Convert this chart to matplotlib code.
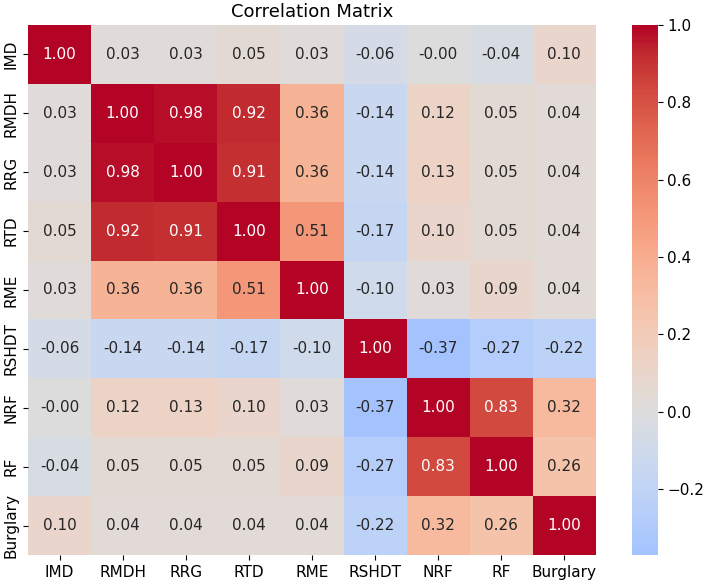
import numpy as np
import matplotlib
matplotlib.use('Agg')
import matplotlib.pyplot as plt
import seaborn as sns

labels = ['IMD', 'RMDH', 'RRG', 'RTD', 'RME', 'RSHDT', 'NRF', 'RF', 'Burglary']
corr = np.array([
	[1.00, 0.03, 0.03, 0.05, 0.03, -0.06, -0.00, -0.04, 0.10],
	[0.03, 1.00, 0.98, 0.92, 0.36, -0.14, 0.12, 0.05, 0.04],
	[0.03, 0.98, 1.00, 0.91, 0.36, -0.14, 0.13, 0.05, 0.04],
	[0.05, 0.92, 0.91, 1.00, 0.51, -0.17, 0.10, 0.05, 0.04],
	[0.03, 0.36, 0.36, 0.51, 1.00, -0.10, 0.03, 0.09, 0.04],
	[-0.06, -0.14, -0.14, -0.17, -0.10, 1.00, -0.37, -0.27, -0.22],
	[-0.00, 0.12, 0.13, 0.10, 0.03, -0.37, 1.00, 0.83, 0.32],
	[-0.04, 0.05, 0.05, 0.05, 0.09, -0.27, 0.83, 1.00, 0.26],
	[0.10, 0.04, 0.04, 0.04, 0.04, -0.22, 0.32, 0.26, 1.00],
])

fig = plt.figure(figsize=(7.09, 5.85), dpi=100)
ax = fig.add_axes([0.0395, 0.0513, 0.801, 0.906])
cax = fig.add_axes([0.891, 0.0513, 0.0367, 0.906])
sns.heatmap(corr, annot=True, fmt='.2f', cmap='coolwarm', center=0,
	xticklabels=labels, yticklabels=labels, ax=ax, cbar_ax=cax,
	annot_kws={'size': 11})
ax.set_title('Correlation Matrix', fontsize=13)
ax.tick_params(labelsize=11)
cax.tick_params(labelsize=11)
fig.savefig('out.png')
